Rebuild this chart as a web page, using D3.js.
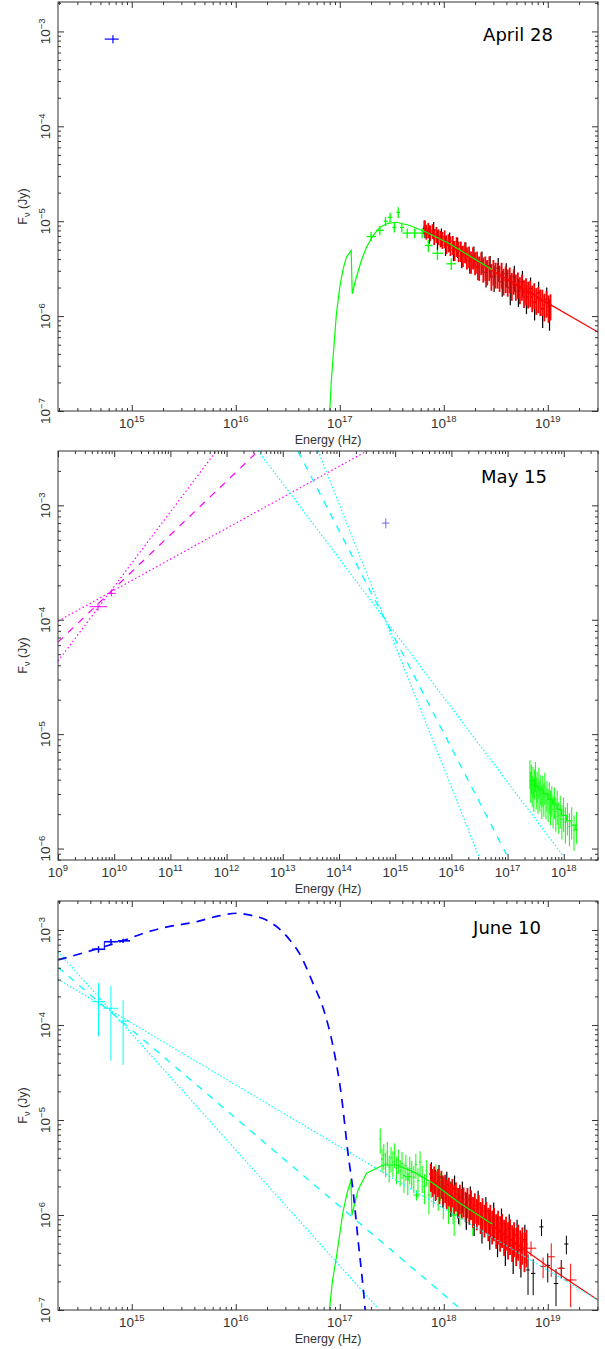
<!DOCTYPE html>
<html lang="en">
<head>
  <meta charset="UTF-8">
  <title>SED panels</title>
  <style>
    body { margin: 0; background: #fff; }
    svg { display: block; }
    .tick-label { font-family: "Liberation Sans", Arial, sans-serif; font-size: 13.5px; fill: #333; }
    .axis-title { font-family: "Liberation Sans", Arial, sans-serif; font-size: 12.5px; fill: #333; }
    .date { font-family: "DejaVu Sans", sans-serif; font-size: 18px; fill: #000; }
  </style>
</head>
<body>
<svg width="605" height="1349"></svg>

<script src="https://cdn.jsdelivr.net/npm/d3@7"></script>
<script>
  // X-ray arrays: energy in 1e17 Hz, flux and error in microJy
  // optical / radio arrays: Hz and Jy

  // ---- April 28 ----
  const aprUvot = [[6.6e14, 5.5e14, 7.5e14, 8.3e-4, 0.8e-4]];
  const aprGreenModel = [[0.776, 0.05], [0.83, 0.21], [0.863, 0.369], [0.929, 1.057], [1.0, 2.02], [1.077, 3.15],
    [1.159, 4.18], [1.288, 4.91], [1.318, 1.72], [1.445, 2.57], [1.614, 3.85], [1.807, 5.32], [2.089, 7.07],
    [2.427, 8.65], [2.917, 9.5], [3.51, 9.75], [4.71, 9.02], [6.82, 7.66], [11.4, 5.78], [29.2, 3.08]];
  const aprGreen = [[2.0, 1.81, 2.24, 6.9, 0.8], [2.43, 2.24, 2.65, 8.0, 0.9], [2.75, 2.65, 2.9, 10.0, 1.1],
    [3.05, 2.9, 3.2, 11.0, 1.3], [3.35, 3.2, 3.5, 8.6, 1.0], [3.65, 3.5, 3.8, 12.4, 1.6], [3.95, 3.8, 4.15, 8.6, 1.0],
    [4.45, 4.04, 4.9, 7.5, 0.9], [5.25, 4.9, 5.66, 7.5, 0.9], [6.2, 5.66, 6.71, 7.5, 0.9], [7.1, 6.56, 7.78, 5.55, 0.8],
    [8.7, 7.78, 9.84, 4.6, 0.7], [11.8, 10.6, 13.2, 3.56, 0.5]];
  const aprBlack = [[6.6, 8.4, 1.8], [7.3, 7.4, 1.6], [8.0, 8.1, 1.7], [8.7, 6.5, 1.5], [9.5, 6.9, 1.5], [10.4, 5.6, 1.3],
    [11.4, 6.2, 1.4], [12.4, 5.0, 1.2], [13.6, 5.4, 1.3], [14.9, 4.3, 1.1], [16.3, 4.8, 1.2], [17.8, 3.8, 1.0],
    [19.5, 4.3, 1.1], [21.3, 3.3, 0.9], [23.3, 3.8, 1.0], [25.5, 2.9, 0.9], [27.9, 3.4, 0.9], [30.5, 2.6, 0.8],
    [33.4, 3.2, 0.9], [36.5, 2.3, 0.7], [39.9, 2.8, 0.8], [43.6, 2.0, 0.7], [47.7, 2.6, 0.8], [52.2, 1.85, 0.6],
    [57.1, 2.3, 0.7], [62.4, 1.6, 0.55], [68.3, 1.95, 0.6], [74.7, 1.4, 0.5], [81.7, 1.75, 0.55], [89.3, 1.2, 0.45],
    [97.7, 1.5, 0.5], [104, 1.1, 0.4]];
  const aprRed = [[6.5, 8.7, 1.5], [6.8, 7.8, 1.4], [7.1, 8.1, 1.5], [7.4, 7.6, 1.4], [7.8, 7.9, 1.4], [8.1, 6.9, 1.3],
    [8.5, 7.3, 1.4], [8.9, 6.9, 1.3], [9.3, 6.6, 1.3], [9.7, 6.4, 1.3], [10.2, 6.6, 1.4], [10.6, 5.8, 1.3],
    [11.1, 6.0, 1.3], [11.6, 5.6, 1.3], [12.2, 5.7, 1.3], [12.7, 5.0, 1.2], [13.3, 5.5, 1.3], [13.9, 4.9, 1.2],
    [14.6, 4.9, 1.2], [15.3, 4.4, 1.1], [16.0, 4.8, 1.2], [16.7, 4.2, 1.1], [17.5, 4.3, 1.1], [18.3, 3.8, 1.0],
    [19.1, 4.2, 1.1], [20.0, 3.7, 1.0], [20.9, 3.8, 1.0], [21.9, 3.3, 0.95], [22.9, 3.7, 1.0], [24.0, 3.2, 0.95],
    [25.1, 3.3, 0.95], [26.2, 3.0, 0.9], [27.4, 3.3, 0.95], [28.7, 2.7, 0.85], [30.0, 3.0, 0.9], [31.4, 2.8, 0.85],
    [32.9, 2.8, 0.85], [34.4, 2.6, 0.8], [36.0, 2.8, 0.85], [37.6, 2.4, 0.75], [39.4, 2.55, 0.8], [41.2, 2.35, 0.75],
    [43.1, 2.5, 0.75], [45.1, 2.15, 0.7], [47.1, 2.4, 0.72], [49.3, 2.1, 0.65], [51.6, 2.2, 0.68], [54.0, 1.95, 0.62],
    [56.5, 2.1, 0.65], [59.1, 1.8, 0.58], [61.8, 1.9, 0.6], [64.7, 1.75, 0.55], [67.7, 1.8, 0.56], [70.8, 1.6, 0.5],
    [74.1, 1.7, 0.52], [77.5, 1.5, 0.47], [81.1, 1.55, 0.48], [84.8, 1.45, 0.45], [88.7, 1.45, 0.45], [92.8, 1.3, 0.42],
    [97.1, 1.4, 0.44], [101.6, 1.25, 0.4], [106.3, 1.3, 0.4]];
  const aprRedModel = [[6.5, 8.2], [20, 3.9], [100, 1.37], [310, 0.67]];

  // ---- May 15 ----
  const mayRadio = [[5.15e9, 3.67e9, 7.45e9, 1.3e-4, 0.11e-4], [8.9e9, 7.8e9, 1.07e10, 1.7e-4, 0.1e-4]];
  const mayRadioBest = [[1e9, 6.37e-5], [3.63e12, 2.98e-3]];
  const mayRadioSteep = [[1e9, 4.35e-5], [6.6e11, 3.0e-3]];
  const mayRadioFlat = [[1e9, 9.73e-5], [3.2e14, 3.0e-3]];
  const mayOptBest = [[1.86e13, 2.98e-3], [9.55e16, 8.9e-7]];
  const mayOptSteep = [[4.27e13, 2.98e-3], [3.16e16, 8.3e-7]];
  const mayOptFlat = [[3.63e12, 3.0e-3], [9.8e17, 8.6e-7]];
  const mayUvot = [[6.8e14, 5.8e14, 7.9e14, 7.0e-4, 0.7e-4]];
  const mayGreen = [[2.50, 4.6, 1.3], [2.58, 3.6, 1.1], [2.66, 4.2, 1.2], [2.75, 3.3, 1.0], [2.84, 4.0, 1.2],
    [2.93, 3.1, 1.0], [3.03, 3.8, 1.1], [3.13, 4.4, 1.3], [3.24, 3.2, 1.0], [3.36, 3.6, 1.1], [3.48, 2.9, 0.9],
    [3.61, 3.9, 1.2], [3.75, 3.0, 0.9], [3.90, 3.4, 1.0], [4.06, 2.7, 0.9], [4.23, 3.3, 1.0], [4.41, 2.8, 0.9],
    [4.60, 3.5, 1.1], [4.81, 2.6, 0.8], [5.03, 3.0, 0.9], [5.27, 2.5, 0.8], [5.53, 2.9, 0.9], [5.81, 2.4, 0.8],
    [6.11, 2.7, 0.8], [6.45, 2.2, 0.7], [6.81, 2.6, 0.8], [7.21, 2.1, 0.7], [7.65, 2.4, 0.8], [8.13, 1.95, 0.6],
    [8.66, 2.2, 0.7], [9.25, 1.8, 0.6], [9.9, 2.1, 0.7], [10.7, 1.7, 0.6], [11.6, 1.9, 0.6], [12.6, 1.55, 0.5],
    [13.8, 1.75, 0.55], [15.2, 1.45, 0.5], [16.8, 1.6, 0.5]];
  const mayGreenModel = [[2.45, 3.9], [3.0, 3.5], [3.6, 3.25], [4.3, 3.0], [5.2, 2.7], [6.3, 2.45], [7.6, 2.2],
    [9.2, 1.95], [11.2, 1.75], [13.6, 1.6], [16.0, 1.47], [17.9, 1.47]];

  // ---- June 10 ----
  const junBlueModel = [[1.95e14, 4.83e-4], [9.55e14, 8.18e-4], [1.28e15, 9.2e-4], [2.14e15, 1.07e-3],
    [4.19e15, 1.22e-3], [6.03e15, 1.36e-3], [1.02e16, 1.50e-3], [1.35e16, 1.44e-3], [1.97e16, 1.27e-3],
    [2.7e16, 1.0e-3], [3.31e16, 7.85e-4], [4.12e16, 5.6e-4], [5.53e16, 2.75e-4], [7.18e16, 1.33e-4], [8.63e16, 5.92e-5],
    [1.04e17, 1.76e-5], [1.20e17, 4.47e-6], [1.34e17, 1.83e-6], [1.50e17, 5.46e-7], [1.74e17, 1.13e-7],
    [1.85e17, 5e-8]];
  const junUvot = [[4.79e14, 4.14e14, 5.56e14, 6.26e-4, 0.5e-4], [6.31e14, 5.45e14, 7.3e14, 7.53e-4, 0.5e-4],
    [8.26e14, 7.43e14, 9.62e14, 7.7e-4, 0.4e-4]];
  const junOpt = [[4.79e14, 4.14e14, 5.56e14, 1.76e-4, 1.0e-4], [6.31e14, 5.33e14, 7.43e14, 1.50e-4, 1.08e-4],
    [8.26e14, 7.43e14, 9.62e14, 1.10e-4, 0.72e-4]];
  const junOptBest = [[1.95e14, 4.05e-4], [1.43e18, 1.04e-7]];
  const junOptSteep = [[1.95e14, 5.92e-4], [2.33e17, 1.04e-7]];
  const junOptFlat = [[1.95e14, 3.03e-4], [3.05e19, 1.27e-7]];
  const junGreenModel = [[0.785, 0.05], [0.80, 0.105], [0.85, 0.2], [0.929, 0.363], [1.07, 1.05], [1.17, 1.66],
    [1.28, 2.34], [1.31, 1.0], [1.50, 1.83], [1.81, 2.75], [2.61, 3.36], [3.51, 3.36], [5.07, 2.86], [7.89, 2.16],
    [14.3, 1.33], [29.4, 0.80]];
  const junGreen = [[2.45, 6.3, 1.9], [2.55, 3.9, 1.1], [2.65, 4.3, 1.3], [2.76, 3.5, 1.0], [2.87, 4.6, 1.3],
    [2.99, 3.2, 1.0], [3.11, 4.0, 1.2], [3.24, 3.6, 1.1], [3.37, 4.4, 1.3], [3.51, 3.1, 1.0], [3.66, 3.8, 1.1],
    [3.81, 2.9, 0.9], [3.97, 3.5, 1.1], [4.14, 2.6, 0.9], [4.32, 3.3, 1.0], [4.51, 2.4, 0.8], [4.71, 3.1, 1.0],
    [4.92, 2.8, 0.9], [5.15, 2.5, 0.8], [5.39, 3.4, 1.0], [5.65, 2.3, 0.8], [5.92, 3.6, 1.1], [6.21, 2.5, 0.8],
    [6.52, 2.0, 0.7], [6.85, 2.9, 0.9], [7.2, 1.62, 0.6], [7.57, 2.3, 0.8], [7.96, 1.9, 0.7], [8.4, 2.6, 0.8],
    [8.85, 1.7, 0.6], [9.35, 2.1, 0.7], [9.9, 1.5, 0.6], [10.5, 1.8, 0.6], [11.1, 1.3, 0.5], [11.8, 1.6, 0.55],
    [12.6, 1.0, 0.4], [13.4, 1.5, 0.5], [14.3, 1.16, 0.4], [15.3, 1.35, 0.45], [16.4, 1.1, 0.4], [17.6, 1.2, 0.4],
    [19.0, 0.95, 0.35]];
  const junGreenBins = [[4.54, 4.2, 4.9, 2.53, 0.25], [5.46, 5.1, 5.85, 1.62, 0.2], [12.3, 11.3, 13.4, 1.0, 0.2],
    [17.8, 14.8, 21.4, 1.16, 0.2]];
  const junBlack = [[7.6, 2.7, 0.9], [8.3, 2.2, 0.8], [9.0, 2.5, 0.85], [9.8, 1.9, 0.7], [10.7, 2.1, 0.75],
    [11.7, 1.6, 0.65], [12.7, 1.9, 0.7], [13.9, 1.35, 0.55], [15.1, 1.65, 0.6], [16.5, 1.2, 0.5], [18.0, 1.45, 0.55],
    [19.6, 1.05, 0.45], [21.4, 1.3, 0.5], [23.3, 0.9, 0.4], [25.4, 1.1, 0.45], [27.7, 0.78, 0.35], [30.2, 0.95, 0.4],
    [32.9, 0.66, 0.3], [35.9, 0.82, 0.35], [39.1, 0.56, 0.27], [42.6, 0.72, 0.3], [46.5, 0.48, 0.24], [50.7, 0.62, 0.27],
    [55.2, 0.43, 0.21], [60.2, 0.55, 0.24]];
  const junBlackBins = [[64.6, 62, 67, 0.264, 0.12], [72.4, 69, 76, 0.243, 0.1], [87.1, 83, 91, 0.75, 0.15],
    [100, 95, 105, 0.295, 0.1], [120, 114, 126, 0.19, 0.08], [135, 129, 141, 0.275, 0.06], [151, 144, 158, 0.495, 0.11]];
  const junRed = [[7.5, 2.6, 0.85], [7.8, 2.3, 0.75], [8.1, 2.45, 0.8], [8.4, 2.15, 0.72], [8.8, 2.3, 0.75],
    [9.1, 1.95, 0.65], [9.5, 2.2, 0.72], [9.9, 1.9, 0.63], [10.3, 2.0, 0.66], [10.7, 1.75, 0.6], [11.2, 1.85, 0.62],
    [11.6, 1.6, 0.55], [12.1, 1.8, 0.6], [12.6, 1.55, 0.53], [13.1, 1.65, 0.56], [13.7, 1.42, 0.5], [14.3, 1.55, 0.53],
    [14.9, 1.4, 0.48], [15.5, 1.45, 0.5], [16.2, 1.3, 0.46], [16.9, 1.42, 0.5], [17.6, 1.22, 0.43], [18.3, 1.35, 0.47],
    [19.1, 1.14, 0.41], [19.9, 1.25, 0.44], [20.8, 1.08, 0.39], [21.7, 1.2, 0.42], [22.6, 1.0, 0.37], [23.6, 1.1, 0.4],
    [24.6, 0.93, 0.35], [25.7, 1.0, 0.37], [26.8, 0.86, 0.33], [28.0, 0.93, 0.35], [29.2, 0.8, 0.31], [30.5, 0.86, 0.33],
    [31.9, 0.73, 0.29], [33.3, 0.8, 0.31], [34.8, 0.69, 0.28], [36.4, 0.74, 0.29], [38.0, 0.63, 0.26], [39.7, 0.69, 0.27],
    [41.5, 0.59, 0.25], [43.4, 0.64, 0.26], [45.4, 0.55, 0.23], [47.5, 0.6, 0.24], [49.7, 0.51, 0.22], [52.0, 0.56, 0.23],
    [54.4, 0.48, 0.21], [57.0, 0.52, 0.22], [59.7, 0.45, 0.2], [62.5, 0.49, 0.21]];
  const junRedBins = [[69, 62.4, 77.6, 0.447, 0.08], [90.2, 85, 96, 0.286, 0.07], [108, 100, 117, 0.363, 0.14],
    [135, 124, 146, 0.275, 0.05], [166, 146, 189, 0.207, 0.1]];
  const junRedModel = [[7.5, 2.4], [101, 0.286], [305, 0.127]];

  // ---------------------------------------------------------------
  const E17 = 1e17, UJY = 1e-6;
  const toHz = a => a.map(d => [d[0] * E17, d[1] * UJY]);
  const binX = a => a.map(d => ({nu: d[0] * E17, lo: d[1] * E17, hi: d[2] * E17, f: d[3] * UJY, e: d[4] * UJY}));
  const binOpt = a => a.map(d => ({nu: d[0], lo: d[1], hi: d[2], f: d[3], e: d[4]}));
  // dense spectra: bin edges half way (in log) to the neighbours
  const dense = a => a.map((d, i) => {
    const prev = i > 0 ? a[i - 1][0] : d[0] * d[0] / a[i + 1][0];
    const next = i < a.length - 1 ? a[i + 1][0] : d[0] * d[0] / a[i - 1][0];
    return {nu: d[0] * E17, lo: Math.sqrt(prev * d[0]) * E17, hi: Math.sqrt(d[0] * next) * E17, f: d[1] * UJY, e: d[2] * UJY};
  });

  const svg = d3.select("svg");
  const left = 58, right = 598, panelH = 409;

  const panels = [
    {top: 2, xLog: [14.291, 19.483], yLog: [-7, -2.69], title: "April 28", tx: 518, ty: 41},
    {top: 451, xLog: [9, 18.609], yLog: [-6.1, -2.525], title: "May 15", tx: 514, ty: 483},
    {top: 901, xLog: [14.291, 19.483], yLog: [-7, -2.695], title: "June 10", tx: 507, ty: 934}
  ];

  const isMajor = v => Math.abs(Math.log10(v) - Math.round(Math.log10(v))) < 1e-6;

  panels.forEach((p, i) => {
    const bottom = p.top + panelH;
    p.x = d3.scaleLog().domain([10 ** p.xLog[0], 10 ** p.xLog[1]]).range([left, right]);
    p.y = d3.scaleLog().domain([10 ** p.yLog[0], 10 ** p.yLog[1]]).range([bottom, p.top]);
    p.g = svg.append("g");

    svg.append("clipPath").attr("id", "clip" + i)
      .append("rect").attr("x", left).attr("y", p.top).attr("width", right - left).attr("height", panelH);
    p.data = p.g.append("g").attr("clip-path", "url(#clip" + i + ")");

    // count kept low so d3 keeps the 1..9 log subdivisions
    const xt = p.x.ticks(15), yt = p.y.ticks(15);
    const axes = [
      [d3.axisBottom, p.x, xt, "translate(0," + bottom + ")"],
      [d3.axisTop, p.x, xt, "translate(0," + p.top + ")"],
      [d3.axisLeft, p.y, yt, "translate(" + left + ",0)"],
      [d3.axisRight, p.y, yt, "translate(" + right + ",0)"]
    ];
    axes.forEach(([axis, sc, t, tr]) => {
      [[t.filter(isMajor), -6], [t.filter(v => !isMajor(v)), -3]].forEach(([vals, size]) => {
        p.g.append("g").attr("transform", tr).attr("color", "#333")
          .call(axis(sc).tickValues(vals).tickSize(size).tickFormat(""))
          .call(g => g.select(".domain").remove());
      });
    });

    p.g.append("rect")
      .attr("x", left).attr("y", p.top).attr("width", right - left).attr("height", panelH)
      .attr("fill", "none").attr("stroke", "#333").attr("stroke-width", 1);

    // x tick labels
    xt.filter(isMajor).forEach(v => {
      const t = p.g.append("text").attr("class", "tick-label")
        .attr("x", p.x(v)).attr("y", bottom + 17).attr("text-anchor", "middle");
      t.append("tspan").text("10");
      t.append("tspan").attr("dy", -6).attr("font-size", 9.5).text(Math.round(Math.log10(v)));
    });
    // y tick labels, rotated
    yt.filter(isMajor).forEach(v => {
      const t = p.g.append("text").attr("class", "tick-label")
        .attr("transform", "translate(50," + p.y(v) + ") rotate(-90)").attr("text-anchor", "middle");
      t.append("tspan").text("10");
      t.append("tspan").attr("dy", -5).attr("font-size", 9.5).text("\u2212" + Math.abs(Math.round(Math.log10(v))));
    });

    p.g.append("text").attr("class", "axis-title")
      .attr("x", (left + right) / 2).attr("y", bottom + 33).attr("text-anchor", "middle")
      .text("Energy (Hz)");

    const yl = p.g.append("text").attr("class", "axis-title")
      .attr("transform", "translate(27," + (p.top + panelH / 2) + ") rotate(-90)").attr("text-anchor", "middle");
    yl.append("tspan").text("F");
    yl.append("tspan").attr("dy", 3).attr("font-size", 9).text("\u03bd");
    yl.append("tspan").attr("dy", -3).text(" (Jy)");

    p.g.append("text").attr("class", "date")
      .attr("x", p.tx).attr("y", p.ty).attr("text-anchor", "middle").text(p.title);
  });

  function curve(p, pts, color, width, dash, interp) {
    p.data.append("path")
      .attr("d", d3.line().x(d => p.x(d[0])).y(d => p.y(d[1])).curve(interp || d3.curveLinear)(pts))
      .attr("fill", "none").attr("stroke", color).attr("stroke-width", width)
      .attr("stroke-dasharray", dash || null);
  }

  function crosses(p, pts, color, width, opacity) {
    const g = p.data.append("g").attr("stroke", color).attr("stroke-width", width || 1)
      .attr("stroke-opacity", opacity || 1);
    g.selectAll("line.h").data(pts).join("line").attr("class", "h")
      .attr("x1", d => p.x(d.lo)).attr("x2", d => p.x(d.hi))
      .attr("y1", d => p.y(d.f)).attr("y2", d => p.y(d.f));
    g.selectAll("line.v").data(pts).join("line").attr("class", "v")
      .attr("x1", d => p.x(d.nu)).attr("x2", d => p.x(d.nu))
      .attr("y1", d => p.y(Math.max(d.f - d.e, 1e-9))).attr("y2", d => p.y(d.f + d.e));
  }

  const [pa, pm, pj] = panels;
  const green = "#00ff00", red = "#ff0000", cyan = "#00ffff", magenta = "#ff00ff", blue = "#0000ff";

  // April 28
  crosses(pa, binX(aprGreen), green, 1.3);
  crosses(pa, dense(aprBlack), "#000", 1.2);
  crosses(pa, dense(aprRed), red, 1.8);
  curve(pa, toHz(aprRedModel), red, 1.2, null, d3.curveMonotoneX);
  curve(pa, toHz(aprGreenModel), green, 1.2);
  crosses(pa, binOpt(aprUvot), blue, 1.2);

  // May 15
  curve(pm, mayRadioBest, magenta, 1.2, "7,7");
  curve(pm, mayRadioSteep, magenta, 1.2, "1.5,2.5");
  curve(pm, mayRadioFlat, magenta, 1.2, "1.5,2.5");
  crosses(pm, binOpt(mayRadio), magenta, 1);
  curve(pm, mayOptBest, cyan, 1.3, "7,7");
  curve(pm, mayOptSteep, cyan, 1.2, "1.5,2");
  curve(pm, mayOptFlat, cyan, 1.2, "1.5,2");
  crosses(pm, binOpt(mayUvot), "#6a6aff", 1);
  crosses(pm, dense(mayGreen), green, 1.1, 0.9);
  curve(pm, toHz(mayGreenModel), green, 1.2, null, d3.curveStepAfter);

  // June 10
  crosses(pj, binOpt(junOpt), cyan, 1);
  crosses(pj, dense(junGreen), green, 1.1, 0.9);
  crosses(pj, binX(junGreenBins), green, 1);
  crosses(pj, dense(junBlack), "#000", 1.2);
  crosses(pj, binX(junBlackBins), "#000", 1);
  crosses(pj, dense(junRed), red, 1.8);
  crosses(pj, binX(junRedBins), red, 1);
  curve(pj, toHz(junRedModel), red, 1.2, null, d3.curveMonotoneX);
  curve(pj, toHz(junGreenModel), green, 1.2);
  curve(pj, junOptBest, cyan, 1.3, "7,7");
  curve(pj, junOptSteep, cyan, 1.2, "1.5,2");
  curve(pj, junOptFlat, cyan, 1.2, "1.5,2");
  curve(pj, junBlueModel, blue, 1.7, "9,7", d3.curveMonotoneX);
  const uv = binOpt(junUvot);
  curve(pj, [[uv[0].lo, uv[0].f], [uv[1].lo, uv[1].f], [uv[2].lo, uv[2].f], [uv[2].hi, uv[2].f]], blue, 1, null, d3.curveStepAfter);
  crosses(pj, uv, blue, 1.5);
</script>
</body>
</html>
